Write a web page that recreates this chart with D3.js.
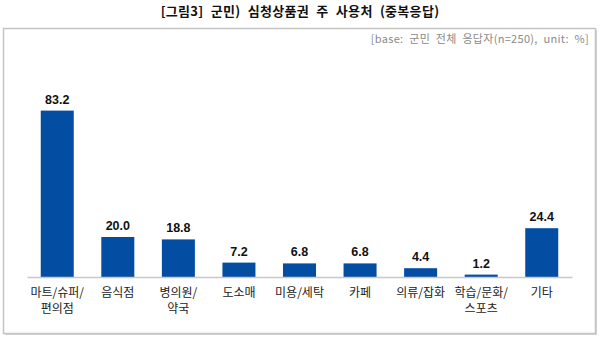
<!DOCTYPE html>
<html>
<head>
<meta charset="utf-8">
<script src="https://cdn.jsdelivr.net/npm/d3@7"></script>
<style>
  html, body { margin: 0; padding: 0; background: #fff; }
  svg { display: block; }
</style>
</head>
<body>
<svg id="chart" width="600" height="338"></svg>
<script>
// Main uses of the Simcheong gift voucher (multiple responses, %)
const categories = [
  ["마트/슈퍼/", "편의점"],
  ["음식점"],
  ["병의원/", "약국"],
  ["도소매"],
  ["미용/세탁"],
  ["카페"],
  ["의류/잡화"],
  ["학습/문화/", "스포츠"],
  ["기타"]
];
const values = [83.2, 20.0, 18.8, 7.2, 6.8, 6.8, 4.4, 1.2, 24.4];
const titleText = "[그림3] 군민) 심청상품권 주 사용처 (중복응답)";
const baseText = "[base: 군민 전체 응답자(n=250), unit: %]";

const svg = d3.select("#chart");
const korFont = "'Noto Sans CJK KR', 'Noto Sans', sans-serif";
const numFont = "'Liberation Sans', Arial, sans-serif";

// Title
svg.append("text")
  .attr("x", 300).attr("y", 16)
  .attr("text-anchor", "middle")
  .style("font-family", korFont)
  .style("font-size", "13px")
  .style("font-weight", "bold")
  .style("word-spacing", "4px")
  .style("letter-spacing", "0.3px")
  .attr("fill", "#111")
  .text(titleText);

// Frame with a soft drop shadow
svg.append("rect")
  .attr("x", 5).attr("y", 30).attr("width", 592).attr("height", 305)
  .attr("fill", "#d4d4d4");
svg.append("rect")
  .attr("x", 3.5).attr("y", 28.5).attr("width", 592).attr("height", 305)
  .attr("fill", "#fff").attr("stroke", "#c4c4c4").attr("stroke-width", 1.5);

// Base note
svg.append("text")
  .attr("x", 589).attr("y", 43)
  .attr("text-anchor", "end")
  .style("font-family", korFont)
  .style("font-size", "11px")
  .style("word-spacing", "3px")
  .style("letter-spacing", "0.3px")
  .attr("fill", "#8a8a8a")
  .text(baseText);

const x = d3.scaleBand()
  .domain(d3.range(categories.length))
  .range([27, 572])
  .paddingInner(0.455)
  .paddingOuter(0.227);

const y = d3.scaleLinear().domain([0, 100]).range([277, 77]);

// Bars
svg.selectAll("rect.bar")
  .data(values)
  .join("rect")
  .attr("class", "bar")
  .attr("x", (d, i) => x(i))
  .attr("y", d => y(d))
  .attr("width", x.bandwidth())
  .attr("height", d => y(0) - y(d))
  .attr("fill", "#034ea2");

// Baseline
const xAxis = svg.append("g")
  .attr("transform", `translate(0,${y(0)})`)
  .call(d3.axisBottom(x).tickSize(0).tickFormat(""));
xAxis.select(".domain").attr("stroke", "#c8c8c8").attr("stroke-width", 1.5);

// Value labels
svg.selectAll("text.val")
  .data(values)
  .join("text")
  .attr("class", "val")
  .attr("x", (d, i) => x(i) + x.bandwidth() / 2)
  .attr("y", d => y(d) - 7)
  .attr("text-anchor", "middle")
  .style("font-family", numFont)
  .style("font-size", "12.5px")
  .style("font-weight", "bold")
  .attr("fill", "#111")
  .text(d => d.toFixed(1));

// Category labels
const cat = svg.selectAll("text.cat")
  .data(categories)
  .join("text")
  .attr("class", "cat")
  .attr("text-anchor", "middle")
  .style("font-family", korFont)
  .style("font-size", "12px")
  .attr("fill", "#222");
cat.each(function(lines, i) {
  const t = d3.select(this);
  lines.forEach((ln, k) => {
    t.append("tspan")
      .attr("x", x(i) + x.bandwidth() / 2)
      .attr("y", 297 + k * 16)
      .text(ln);
  });
});
</script>
</body>
</html>
